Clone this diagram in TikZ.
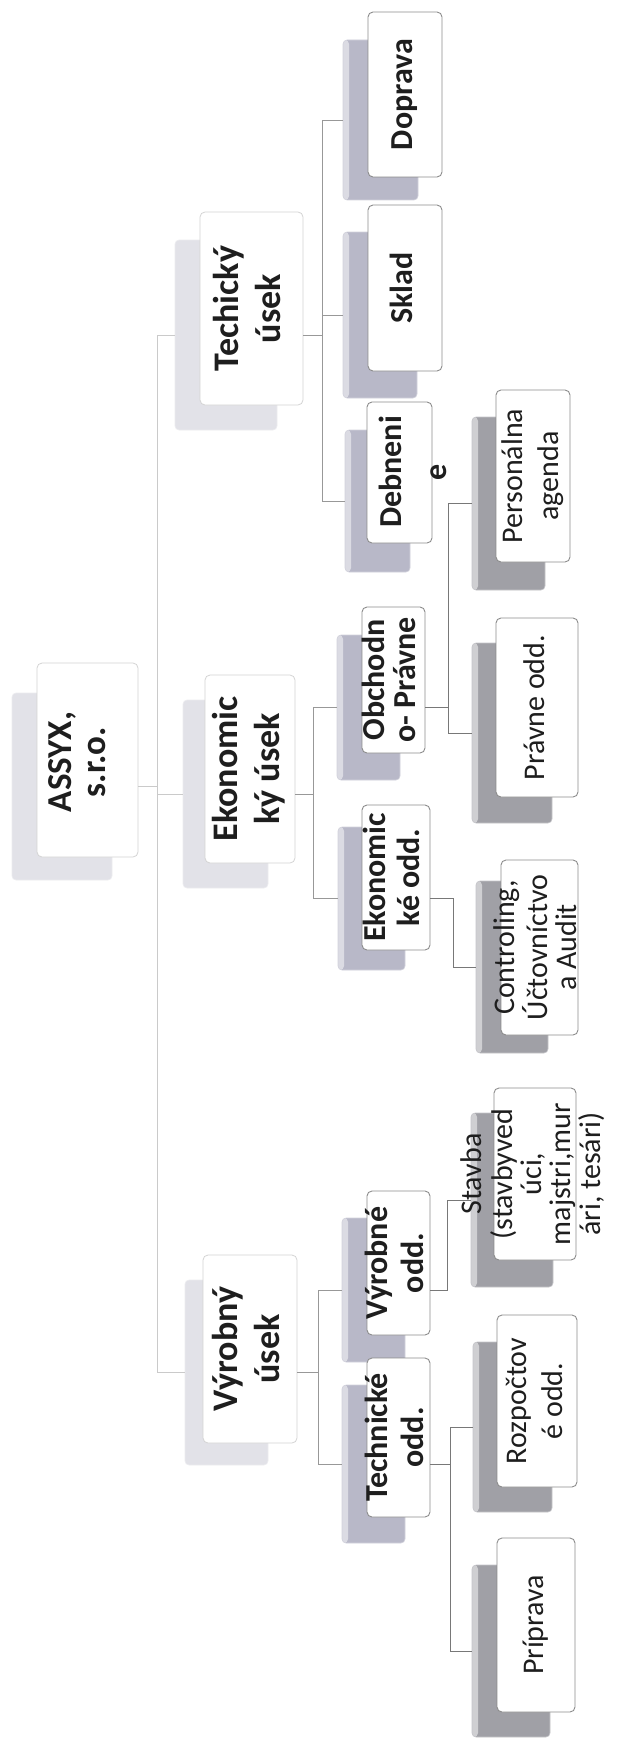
\documentclass[tikz,border=0pt]{standalone}
\usepackage{fontspec}
\setmainfont{Carlito}
\usepackage{graphicx}
\definecolor{shA}{HTML}{E2E2E8}
\definecolor{shAe}{HTML}{EDEDF0}
\definecolor{shB}{HTML}{B8B8C8}
\definecolor{shBe}{HTML}{D2D2DC}
\definecolor{shC}{HTML}{A0A0A6}
\definecolor{shCe}{HTML}{C6C6CA}
\definecolor{bdA}{HTML}{D4D4D4}
\definecolor{bdB}{HTML}{8C8C8C}
\definecolor{cnA}{HTML}{CACACA}
\definecolor{cnB}{HTML}{989898}
\definecolor{cnC}{HTML}{787878}
\definecolor{txA}{HTML}{1E1E1E}
\newcommand\rtx[3]{\rotatebox{90}{\fontsize{#1}{#2}\selectfont\begin{tabular}{@{}c@{}}#3\end{tabular}}}
\newcommand\bxn[6]{%
  \pgfmathsetmacro\myW{#5-#3}\pgfmathsetmacro\myH{#6-#4}%
  \pgfmathsetmacro\myX{(#3+#5)/2}\pgfmathsetmacro\myY{(#4+#6)/2}%
  \node[#1,minimum width=\myW pt,minimum height=\myH pt] (#2) at (\myX,\myY) {};}
\tikzset{
  base/.style={inner sep=0pt, outer sep=0pt},
  hl/.style={path picture={\fill[white,opacity=0.5] (path picture bounding box.south west) rectangle ([xshift=6pt]path picture bounding box.north west);}},
  sh0/.style={base, fill=shA, draw=shAe, line width=0.6pt, rounded corners=4pt},
  sh2/.style={base, fill=shB, draw=shBe, line width=0.6pt, rounded corners=4pt, hl},
  sh3/.style={base, fill=shC, draw=shCe, line width=0.6pt, rounded corners=4pt, hl},
  wb0/.style={base, fill=white, draw=bdA, line width=0.8pt, rounded corners=5pt},
  wb/.style={base, fill=white, draw=bdB, line width=0.9pt, rounded corners=5pt},
  tb/.style={base, font=\bfseries, text=txA},
  tr/.style={base, text=txA},
  cn0/.style={draw=cnA, line width=0.9pt},
  cn1/.style={draw=cnB, line width=0.9pt},
  cn2/.style={draw=cnC, line width=0.9pt},
}
\begin{document}
\begin{tikzpicture}[x=1pt,y=-1pt]
\useasboundingbox[fill=white] (0,0) rectangle (626,1747);
% ---- shadows
\bxn{sh0}{Rs}{12}{693}{112}{880}
\bxn{sh0}{Ts}{175}{240}{277}{430}
\bxn{sh0}{Es}{183}{700}{268}{888}
\bxn{sh0}{Vs}{185}{1280}{268}{1465}
\bxn{sh2}{D1s}{343}{40}{418}{200}
\bxn{sh2}{D2s}{343}{232}{417}{398}
\bxn{sh2}{D3s}{345}{430}{410}{572}
\bxn{sh2}{Os}{337}{635}{400}{780}
\bxn{sh2}{EOs}{338}{827}{405}{970}
\bxn{sh2}{VOs}{342}{1218}{405}{1362}
\bxn{sh2}{TOs}{342}{1385}{405}{1543}
\bxn{sh3}{PAs}{472}{417}{545}{590}
\bxn{sh3}{PRs}{472}{643}{552}{823}
\bxn{sh3}{COs}{476}{881}{548}{1053}
\bxn{sh3}{STs}{471}{1113}{553}{1287}
\bxn{sh3}{ROs}{473}{1342}{552}{1512}
\bxn{sh3}{PPs}{472}{1565}{550}{1737}
% ---- white boxes
\bxn{wb0}{Rw}{37}{663}{138}{857}
\bxn{wb0}{Tw}{200}{212}{303}{405}
\bxn{wb0}{Ew}{205}{675}{295}{863}
\bxn{wb0}{Vw}{203}{1255}{297}{1443}
\bxn{wb}{D1w}{368}{12}{442}{177}
\bxn{wb}{D2w}{368}{205}{442}{371}
\bxn{wb}{D3w}{367}{402}{432}{543}
\bxn{wb}{Ow}{362}{607}{425}{753}
\bxn{wb}{EOw}{362}{805}{430}{950}
\bxn{wb}{VOw}{367}{1191}{430}{1335}
\bxn{wb}{TOw}{367}{1358}{430}{1517}
\bxn{wb}{PAw}{496}{390}{570}{562}
\bxn{wb}{PRw}{496}{618}{578}{797}
\bxn{wb}{COw}{501}{860}{578}{1035}
\bxn{wb}{STw}{494}{1088}{576}{1260}
\bxn{wb}{ROw}{497}{1315}{577}{1487}
\bxn{wb}{PPw}{497}{1538}{575}{1712}
% ---- connectors
\coordinate (b0) at (157,0);
\coordinate (bT) at (322,0);
\coordinate (bE) at (313,0);
\coordinate (bV) at (318,0);
\coordinate (bO) at (448,0);
\coordinate (bEO) at (453,0);
\coordinate (bVO) at (447,0);
\coordinate (bTO) at (450,0);
\draw[cn0] (Rw.east |- Rs.center) -- (b0 |- Rs.center);
\draw[cn0] (Ts.west) -| (b0 |- Vs.west) -- (Vs.west);
\draw[cn0] (b0 |- Es.west) -- (Es.west);
\draw[cn1] (Tw.east |- Ts.center) -- (bT |- Ts.center);
\draw[cn1] (D1s.west) -| (bT |- D3s.west) -- (D3s.west);
\draw[cn1] (bT |- D2s.west) -- (D2s.west);
\draw[cn1] (Ew.east |- Es.center) -- (bE |- Es.center);
\draw[cn1] (Os.west) -| (bE |- EOs.west) -- (EOs.west);
\draw[cn1] (Vw.east |- Vs.center) -- (bV |- Vs.center);
\draw[cn1] (VOs.west) -| (bV |- TOs.west) -- (TOs.west);
\draw[cn2] (Ow.east |- Os.center) -- (bO |- Os.center);
\draw[cn2] (PAs.west) -| (bO |- PRs.west) -- (PRs.west);
\draw[cn2] (EOw.east |- EOs.center) -| (bEO |- COs.west) -- (COs.west);
\draw[cn2] (VOw.east |- VOs.center) -| (bVO |- STs.west) -- (STs.west);
\draw[cn2] (TOw.east |- TOs.center) -- (bTO |- TOs.center);
\draw[cn2] (ROs.west) -| (bTO |- PPs.west) -- (PPs.west);
% ---- texts
\node[tb] (Rt) at (82,762) {\rtx{35}{34}{ASSYX,\\s.r.o.}};
\node[tb] (Tt) at (Tw.center) {\rtx{36}{42}{Techický\\úsek}};
\node[tb] (Et) at (Ew.center) {\rtx{36}{42}{Ekonomic\\ký úsek}};
\node[tb] (Vt) at (Vw.center) {\rtx{36}{42}{Výrobný\\úsek}};
\node[tb] (D1t) at (D1w.center) {\rtx{32}{36}{Doprava}};
\node[tb] (D2t) at (D2w.center) {\rtx{32}{36}{Sklad}};
\node[tb] (D3t) at (415,472) {\rtx{32}{45}{Debneni\\e}};
\node[tb] (Ot) at (Ow.center) {\rtx{32}{30}{Obchodn\\o- Právne}};
\node[tb] (EOt) at (EOw.center) {\rtx{32}{34}{Ekonomic\\ké odd.}};
\node[tb] (VOt) at (VOw.center) {\rtx{32}{36}{Výrobné\\odd.}};
\node[tb] (TOt) at (TOw.center) {\rtx{32}{36}{Technické\\odd.}};
\node[tr] (PAt) at (PAw.center) {\rtx{30}{36}{Personálna\\agenda}};
\node[tr] (PRt) at (PRw.center) {\rtx{30}{36}{Právne odd.}};
\node[tr] (COt) at (COw.center) {\rtx{30}{27}{Controling,\\Účtovníctvo\\a Audit}};
\node[tr] (STt) at (STw.center) {\rtx{30}{28}{Stavba\\(stavbyved\\úci,\\majstri,mur\\ári, tesári)}};
\node[tr] (ROt) at (ROw.center) {\rtx{30}{36}{Rozpočtov\\é odd.}};
\node[tr] (PPt) at (PPw.center) {\rtx{30}{36}{Príprava}};
\end{tikzpicture}
\end{document}
